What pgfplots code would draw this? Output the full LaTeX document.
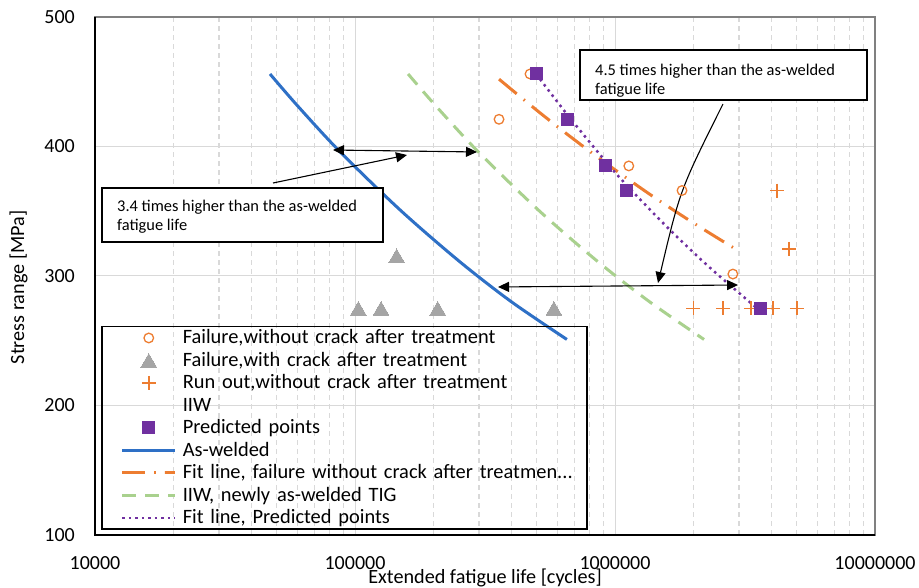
\documentclass[border=0pt]{standalone}
\usepackage{pgfplots}
\pgfplotsset{compat=1.18}
\usepackage{fontspec}
\setmainfont{Carlito}
\usetikzlibrary{arrows.meta}

\definecolor{cblue}{RGB}{46,112,198}
\definecolor{corange}{RGB}{237,125,49}
\definecolor{cgray}{RGB}{165,165,165}
\definecolor{cgreen}{RGB}{169,209,142}
\definecolor{cpurple}{RGB}{112,48,160}
\definecolor{cgrid}{RGB}{217,217,217}

\pgfplotsset{
  wlegend/.style={legend image code/.code={%
    \path (-19pt,0pt) (59pt,0pt);
    \draw[mark repeat=2,mark phase=2,##1] plot coordinates {(0pt,0pt)(26.5pt,0pt)(53pt,0pt)};}},
}

\begin{document}
\begin{tikzpicture}
\path[use as bounding box] (-95pt,-53pt) rectangle (824pt,535pt);
\begin{axis}[
  scale only axis, width=780pt, height=518pt,
  xmode=log, xmin=10000, xmax=10000000, ymin=100, ymax=500,
  xtick={10000,100000,1000000,10000000},
  xticklabels={10000,100000,1000000,10000000},
  minor xtick={20000,30000,40000,50000,60000,70000,80000,90000,
               200000,300000,400000,500000,600000,700000,800000,900000,
               2000000,3000000,4000000,5000000,6000000,7000000,8000000,9000000},
  ytick={100,200,300,400,500},
  xmajorgrids, ymajorgrids, xminorgrids,
  major grid style={cgrid, line width=1pt},
  minor grid style={cgrid, line width=1.2pt, dash pattern=on 5pt off 4pt},
  major tick length=0pt, minor tick length=0pt,
  tick label style={font=\fontsize{20}{20}\selectfont, inner sep=0pt},
  /pgf/number format/assume math mode=true,
  xticklabel style={anchor=north, yshift=-21pt},
  yticklabel style={anchor=east, xshift=-20pt},
  axis line style={draw=black!50, line width=1.3pt},
  xlabel={Extended fatigue life [cycles]},
  ylabel={Stress range [MPa]},
  label style={font=\fontsize{20.2}{22}\selectfont},
  xlabel style={at={(axis description cs:0.5,0)}, anchor=base, yshift=-49pt},
  ylabel style={at={([xshift=-71pt]axis description cs:0,0.478)}, anchor=base},
  legend style={
    at={(rel axis cs:0.0077,0.0097)}, anchor=south west,
    draw=black, line width=1.5pt, fill=none,
    font=\fontsize{20.4}{20}\selectfont,
    inner xsep=0pt, inner ysep=0pt,
    row sep=0pt, column sep=0pt,
    cells={anchor=west},
    nodes={inner sep=0pt, text height=17pt, text depth=5.5pt, text width=404pt, align=left},
  },
  legend cell align=left,
]
% Failure, without crack after treatment
\addplot[only marks, mark=o, mark size=4.8pt, mark options={draw=corange, line width=1.3pt}, wlegend]
table {
471000 456
358000 421
1130000 385
1810000 366
2840000 301.5
};
\addlegendentry{Failure,without crack after treatment}
% Failure, with crack after treatment
\addplot[only marks, mark=triangle*, mark size=9pt, mark options={draw=cgray, fill=cgray, line width=0pt, yshift=-2.2pt}, wlegend]
table {
144600 315.6
103000 275
126000 275
208000 275
582000 275
};
\addlegendentry{Failure,with crack after treatment}
% Run out
\addplot[only marks, mark=+, mark size=7pt, mark options={draw=corange, line width=1.5pt}, wlegend]
table {
4200000 366
4670000 321
2000000 275
2600000 275
3330000 275
4060000 275
5010000 275
};
\addlegendentry{Run out,without crack after treatment}
% IIW (empty)
\addlegendimage{legend image code/.code={\path (-19pt,0pt) (59pt,0pt);}}
\addlegendentry{IIW}
% Predicted points
\addplot[only marks, mark=square*, mark size=6pt, mark options={draw=cpurple, fill=cpurple, line width=0pt}, wlegend]
table {
497000 456
659000 421
916000 385
1110000 366
3640000 275
};
\addlegendentry{Predicted points}
% As-welded
\addplot[cblue, line width=3pt, smooth, mark=none, wlegend]
table {
47100 456
60000 431.6
87500 396
150000 350.5
253000 311
400000 280
653000 251
};
\addlegendentry{As-welded}
% Fit line failure without crack
\addplot[corange, line width=3pt, mark=none, smooth, dash pattern=on 23pt off 9pt on 1.5pt off 9pt, wlegend]
table {
358000 452
500000 428
700000 405
1000000 382
1400000 361.4
2000000 341
2870000 321.5
};
\addlegendentry{Fit line,  failure without crack after treatmen...}
% IIW newly as-welded TIG
\addplot[cgreen, line width=3pt, mark=none, smooth, dash pattern=on 14pt off 9pt, wlegend]
table {
160000 456
204000 431.6
297500 396
510000 350.5
860000 311
1360000 280
2200000 251
};
\addlegendentry{IIW, newly as-welded TIG}
% Fit line predicted
\addplot[cpurple, line width=2.5pt, mark=none, smooth, dash pattern=on 2.5pt off 4pt, wlegend]
table {
497000 456
659000 424
916000 389
1110000 370
1600000 337
2300000 307
3520000 275
};
\addlegendentry{Fit line, Predicted points}

% annotations
\draw[black, line width=1.5pt, fill=white] (rel axis cs:0.009,0.5656) rectangle (rel axis cs:0.3692,0.6699);
\node[anchor=base west, inner sep=0pt, font=\fontsize{16.4}{19}\selectfont] at (rel axis cs:0.0282,0.6241) {3.4 times higher than the as-welded};
\node[anchor=base west, inner sep=0pt, font=\fontsize{16.4}{19}\selectfont] at (rel axis cs:0.0282,0.5878) {fatigue life};
\draw[black, line width=1.5pt, fill=white] (rel axis cs:0.6218,0.8398) rectangle (rel axis cs:0.9897,0.9363);
\node[anchor=base west, inner sep=0pt, font=\fontsize{16.4}{19}\selectfont] at (rel axis cs:0.641,0.8867) {4.5 times higher than the as-welded};
\node[anchor=base west, inner sep=0pt, font=\fontsize{16.4}{19}\selectfont] at (rel axis cs:0.641,0.850) {fatigue life};
\draw[black, line width=1.1pt, {Triangle[length=11pt,width=10pt]}-{Triangle[length=11pt,width=10pt]}] (rel axis cs:0.3051,0.7432) -- (rel axis cs:0.4897,0.7394);
\draw[black, line width=1.1pt, -{Triangle[length=11pt,width=10pt]}] (rel axis cs:0.2282,0.6795) -- (rel axis cs:0.400,0.7336);
\draw[black, line width=1.1pt, {Triangle[length=11pt,width=10pt]}-{Triangle[length=11pt,width=10pt]}] (rel axis cs:0.5167,0.4788) -- (rel axis cs:0.8244,0.4826);
\draw[black, line width=1.1pt, -{Triangle[length=11pt,width=10pt]}] (rel axis cs:0.8051,0.8320) .. controls (rel axis cs:0.75,0.666) .. (rel axis cs:0.7218,0.4865);
\end{axis}
\draw[black, line width=2pt] (0pt,518pt) -- (0pt,0pt) -- (780pt,0pt);
\end{tikzpicture}
\end{document}
